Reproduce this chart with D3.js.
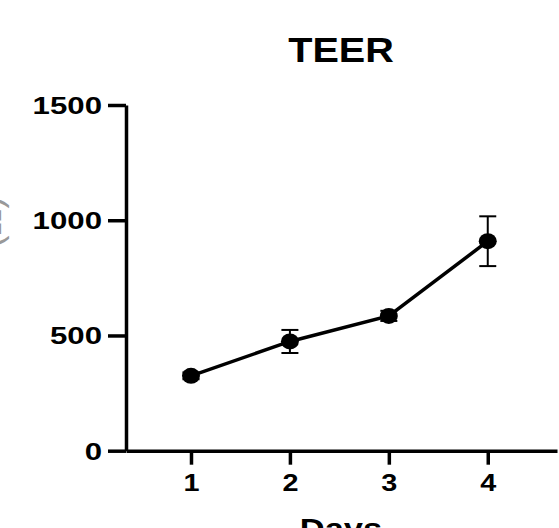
<!DOCTYPE html>
<html><head><meta charset="utf-8">
<script src="https://cdn.jsdelivr.net/npm/d3@7"></script>
<style>html,body{margin:0;padding:0;background:#fff;overflow:hidden}</style>
</head><body>
<script>
const days = [1, 2, 3, 4];
const teer = [325, 474, 585, 909];
const sem = [15, 50, 22, 108];
const yTicks = [0, 500, 1000, 1500];
const xTicks = [1, 2, 3, 4];
const title = "TEER";
const xTitle = "Days";
const yTitle = "(Ω)";

const W = 559, H = 528;
const svg = d3.select("body").append("svg").attr("width", W).attr("height", H);
const FONT = "'Liberation Sans', Arial, Helvetica, sans-serif";

const x = d3.scaleLinear().domain([0.343, 4.7]).range([126, 557]);
const y = d3.scaleLinear().domain([0, 1500]).range([450.7, 105]);

function stretched(sel, sx) {
  sel.each(function() {
    const t = d3.select(this);
    const tx = +t.attr("x") || 0, ty = +t.attr("y") || 0;
    t.attr("transform", `translate(${tx},${ty}) scale(${sx},1) translate(${-tx},${-ty})`);
  });
}

// Y axis
const ya = svg.append("g").attr("transform", "translate(126,0)")
  .call(d3.axisLeft(y).tickValues(yTicks).tickFormat(d3.format("d"))
    .tickSize(18).tickPadding(6).tickSizeOuter(0));
ya.select(".domain").attr("stroke", "#000").attr("stroke-width", 3.5);
ya.selectAll(".tick line").attr("stroke", "#000").attr("stroke-width", 3.5);
ya.selectAll(".tick text").attr("font-family", FONT).attr("font-weight", "bold")
  .attr("font-size", 24).attr("fill", "#000").attr("dy", "0.35em")
  .attr("transform", "translate(-24,0) scale(1.3,1) translate(24,0)");

// X axis
const xa = svg.append("g").attr("transform", "translate(0,450.7)")
  .call(d3.axisBottom(x).tickValues(xTicks).tickFormat(d3.format("d"))
    .tickSize(14).tickPadding(9).tickSizeOuter(0));
xa.select(".domain").attr("stroke", "#000").attr("stroke-width", 3.5);
xa.selectAll(".tick line").attr("stroke", "#000").attr("stroke-width", 3.5);
xa.selectAll(".tick text").attr("font-family", FONT).attr("font-weight", "bold")
  .attr("font-size", 24).attr("fill", "#000").attr("dy", "0.71em")
  .attr("transform", "scale(1.2,1)");

// Title
svg.append("text").attr("x", 341).attr("y", 62).attr("text-anchor", "middle")
  .attr("font-family", FONT).attr("font-weight", "bold").attr("font-size", 36)
  .text(title).call(stretched, 1.1);

// X title (cut off at the bottom edge, as in the reference)
svg.append("text").attr("x", 341).attr("y", 539).attr("text-anchor", "middle")
  .attr("font-family", FONT).attr("font-weight", "bold").attr("font-size", 30)
  .text(xTitle).call(stretched, 1.15);

// Y title (mostly cut off at the left edge)
svg.append("text").attr("transform", "translate(1,222) rotate(-90)")
  .attr("text-anchor", "middle").attr("font-family", FONT).attr("font-size", 36)
  .attr("fill", "#999").text(yTitle);

const data = days.map((d, i) => ({ d, v: teer[i], e: sem[i] }));

// Error bars
const eb = svg.append("g").attr("stroke", "#000").attr("stroke-width", 2);
data.forEach(p => {
  eb.append("line").attr("x1", x(p.d)).attr("x2", x(p.d)).attr("y1", y(p.v - p.e)).attr("y2", y(p.v + p.e));
  [p.v - p.e, p.v + p.e].forEach(v => {
    eb.append("line").attr("x1", x(p.d) - 8.5).attr("x2", x(p.d) + 8.5).attr("y1", y(v)).attr("y2", y(v));
  });
});

// Line
svg.append("path").datum(data)
  .attr("d", d3.line().x(p => x(p.d)).y(p => y(p.v)))
  .attr("fill", "none").attr("stroke", "#000").attr("stroke-width", 3.5);

// Markers
svg.append("g").selectAll("ellipse").data(data).join("ellipse")
  .attr("cx", p => x(p.d)).attr("cy", p => y(p.v)).attr("rx", 9).attr("ry", 8)
  .attr("fill", "#000");
</script>
</body></html>
